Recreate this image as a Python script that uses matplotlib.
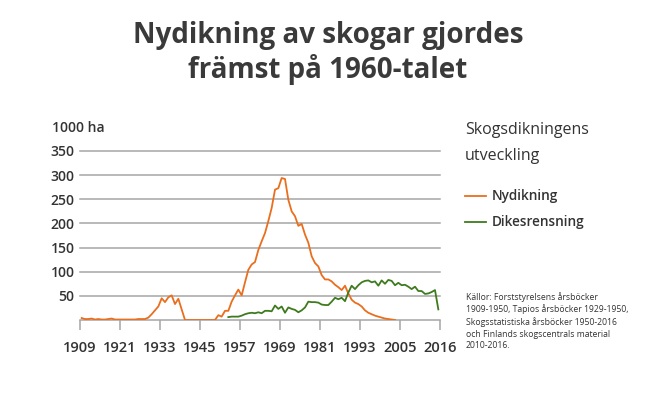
import matplotlib
matplotlib.use("Agg")
import matplotlib.pyplot as plt
import numpy as np

# ─── Data ────────────────────────────────────────────────────────────────────

nydikning_years = list(range(1909, 2004))
nydikning = [
    4, 2, 2, 3, 1, 2, 1, 1, 2, 3,          # 1909-1918
    1, 1, 1, 1, 1, 1, 1, 2, 2, 2,          # 1919-1928
    5, 12, 20, 28, 45, 37, 47, 51, 33, 44,  # 1929-1938
    22, 0, 0, 0, 0, 0, 0, 0, 0, 0,         # 1939-1948
    0, 10, 7, 19, 19, 38, 51, 63, 51, 78,   # 1949-1958
    104, 115, 120, 145, 163, 180, 205, 232, 270, 273,  # 1959-1968
    294, 292, 249, 225, 215, 195, 199, 177, 160, 132,  # 1969-1978
    118, 111, 93, 84, 84, 80, 73, 68, 62, 71,          # 1979-1988
    55, 42, 36, 33, 28, 20, 15, 12, 9, 7,              # 1989-1998
    5, 3, 2, 1, 0,                                     # 1999-2003
]

dikesrensning_years = list(range(1953, 2017))
dikesrensning = [
    6, 7, 7, 7, 9, 12, 14, 15, 14, 16,     # 1953-1962
    14, 19, 19, 18, 30, 23, 28, 15, 26, 23,  # 1963-1972
    21, 16, 20, 26, 38, 37, 37, 36, 32, 31,  # 1973-1982
    31, 38, 46, 43, 46, 39, 57, 71, 64, 72,  # 1983-1992
    78, 81, 82, 78, 80, 71, 82, 75, 83, 81,  # 1993-2002
    72, 77, 72, 73, 69, 64, 69, 60, 60, 54,  # 2003-2012
    55, 58, 62, 22,                          # 2013-2016
]

x_ticks = [1909, 1921, 1933, 1945, 1957, 1969, 1981, 1993, 2005, 2017]
x_labels = ["1909", "1921", "1933", "1945", "1957", "1969", "1981", "1993", "2005", "2016"]
y_ticks = [50, 100, 150, 200, 250, 300, 350]

# ─── Style ───────────────────────────────────────────────────────────────────

ORANGE = "#EA6E1E"
GREEN = "#3E7B1E"
GRID = "#A6A6A6"
TEXT = "#333333"

plt.rcParams["font.family"] = ["Open Sans", "DejaVu Sans"]

fig = plt.figure(figsize=(6.71, 3.94), dpi=100)
ax = fig.add_axes([80 / 671, 1 - 320 / 394, 360 / 671, 169 / 394])

# Points sit in the middle of each year band
ax.plot(np.array(nydikning_years) + 0.5, nydikning, color=ORANGE, lw=1.3,
        solid_joinstyle="round", zorder=3)
ax.plot(np.array(dikesrensning_years) + 0.5, dikesrensning, color=GREEN, lw=1.3,
        solid_joinstyle="round", zorder=3)

ax.set_xlim(1909, 2017)
ax.set_ylim(0, 350)

for y in [0] + y_ticks:
    ax.axhline(y, color=GRID, lw=1.1, zorder=1, clip_on=False)

for s in ax.spines.values():
    s.set_visible(False)

ax.set_yticks(y_ticks)
ax.set_yticklabels([str(v) for v in y_ticks], fontsize=10, fontweight="semibold", color=TEXT)
ax.tick_params(axis="y", length=0, pad=4)

ax.set_xticks(x_ticks)
ax.set_xticklabels(x_labels, fontsize=10.5, fontweight="semibold", color=TEXT)
ax.tick_params(axis="x", length=7, width=1.1, color=GRID, pad=8)

fig.text(52 / 671, 1 - 128 / 394, "1000 ha", fontsize=10, fontweight="semibold",
         color=TEXT, va="center", ha="left")

fig.text(328 / 671, 1 - 53 / 394, "Nydikning av skogar gjordes\nfrämst på 1960-talet",
         fontsize=20, fontweight="bold", color="#3A3A3A", ha="center", va="center",
         linespacing=1.15)

# Legend block
fig.text(465 / 671, 1 - 130 / 394, "Skogsdikningens", fontsize=11.5, color=TEXT,
         va="center", ha="left")
fig.text(465 / 671, 1 - 156 / 394, "utveckling", fontsize=11.5, color=TEXT,
         va="center", ha="left")
for label, color, yp in [("Nydikning", ORANGE, 196), ("Dikesrensning", GREEN, 222)]:
    fig.add_artist(plt.Line2D([465 / 671, 486 / 671], [1 - yp / 394, 1 - yp / 394],
                              color=color, lw=1.3, transform=fig.transFigure))
    fig.text(492 / 671, 1 - yp / 394, label, fontsize=9.8, fontweight="semibold",
             color=TEXT, va="center", ha="left")

fig.text(466 / 671, 1 - 321 / 394,
         "Källor: Forststyrelsens årsböcker\n1909-1950, Tapios årsböcker 1929-1950,\n"
         "Skogsstatistiska årsböcker 1950-2016\noch Finlands skogscentrals material\n2010-2016.",
         fontsize=6.25, color=TEXT, va="center", ha="left", linespacing=1.35)

fig.savefig("out.png", dpi=100)
